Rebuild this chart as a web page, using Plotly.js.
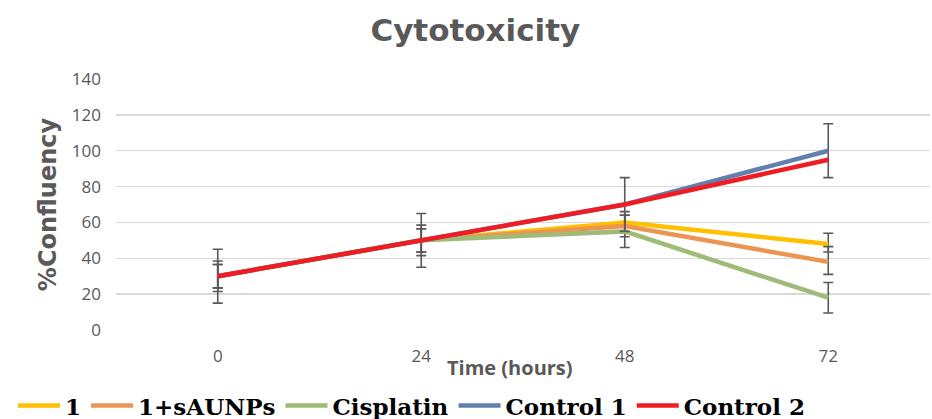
<!DOCTYPE html>
<html>
<head>
<meta charset="utf-8">
<script src="https://cdn.plot.ly/plotly-3.0.1.min.js"></script>
<style>html,body{margin:0;padding:0;background:#fff;}#chart{width:932px;height:419px;}</style>
</head>
<body>
<div id="chart"></div>
<script>
// Data
const times = ['0', '24', '48', '72'];
const seriesNames = ['1', '1+sAUNPs', 'Cisplatin', 'Control 1', 'Control 2'];
const s1 = [30, 50, 60, 48];
const s1ErrPlus = [6.5, 6.5, 6, 6];
const s1ErrMinus = [6.5, 6.5, 6, 4.5];
const s2 = [30, 50, 58, 38];
const s2ErrPlus = [6.5, 6.5, 6, 8.5];
const s2ErrMinus = [6.5, 6.5, 6, 7];
const cis = [30, 50, 55, 18];
const cisErr = [8.5, 8.5, 9, 8.5];
const ctrl1 = [30, 50, 70, 100];
const ctrl1Err = [15, 15, 15, 15];
const ctrl2 = [30, 50, 70, 95];
const yTicks = [0, 20, 40, 60, 80, 100, 120, 140];

const errStyle = {color: '#595959', thickness: 1.6, width: 5};
function trace(name, y, color, plus, minus) {
  const t = {x: times, y: y, name: name, type: 'scatter', mode: 'lines',
    line: {color: color, width: 4.5}};
  if (plus) {
    t.error_y = Object.assign({type: 'data', array: plus, visible: true}, errStyle);
    if (minus) { t.error_y.symmetric = false; t.error_y.arrayminus = minus; }
  }
  return t;
}
const data = [
  trace(seriesNames[0], s1, '#FFC000', s1ErrPlus, s1ErrMinus),
  trace(seriesNames[1], s2, '#EB9550', s2ErrPlus, s2ErrMinus),
  trace(seriesNames[2], cis, '#9EBB78', cisErr),
  trace(seriesNames[3], ctrl1, '#6280AE', ctrl1Err),
  trace(seriesNames[4], ctrl2, '#EE1D23')
];
const layout = {
  width: 932, height: 419,
  margin: {l: 116, r: 2, t: 79, b: 89},
  paper_bgcolor: '#fff', plot_bgcolor: '#fff',
  title: {text: 'Cytotoxicity', x: 0.51, xanchor: 'center', y: 0.928, yanchor: 'middle',
    font: {family: 'DejaVu Sans', size: 31, weight: 'bold', color: '#595959'}},
  xaxis: {type: 'category', range: [-0.5, 3.5], showgrid: false, zeroline: false, showline: false,
    ticks: '', tickfont: {family: 'Open Sans', size: 17, color: '#595959'}, ticklabelstandoff: 14},
  yaxis: {range: [0, 140], tickvals: yTicks, showgrid: true, gridcolor: '#d9d9d9', gridwidth: 1.3,
    zeroline: false, showline: false, ticks: '',
    tickfont: {family: 'Open Sans', size: 17, color: '#595959'}, ticklabelstandoff: 14,
    title: {text: '%Confluency', standoff: 8, font: {family: 'DejaVu Sans', size: 24, weight: 'bold', color: '#595959'}}},
  showlegend: true,
  legend: {orientation: 'h', xref: 'container', yref: 'container', x: 0.014, xanchor: 'left', y: 0.032, yanchor: 'middle',
    itemwidth: 42,
    font: {family: 'DejaVu Serif', size: 23, weight: 'bold', color: '#000'}, traceorder: 'normal',
    bgcolor: 'rgba(0,0,0,0)'},
  annotations: [{text: 'Time (hours)', xref: 'paper', yref: 'paper', x: 0.484, y: -0.15,
    xanchor: 'center', yanchor: 'middle', showarrow: false,
    font: {family: 'Open Sans', size: 20, weight: 'bold', color: '#595959'}}]
};
Plotly.newPlot('chart', data, layout, {displayModeBar: false, staticPlot: true});
</script>
</body>
</html>
